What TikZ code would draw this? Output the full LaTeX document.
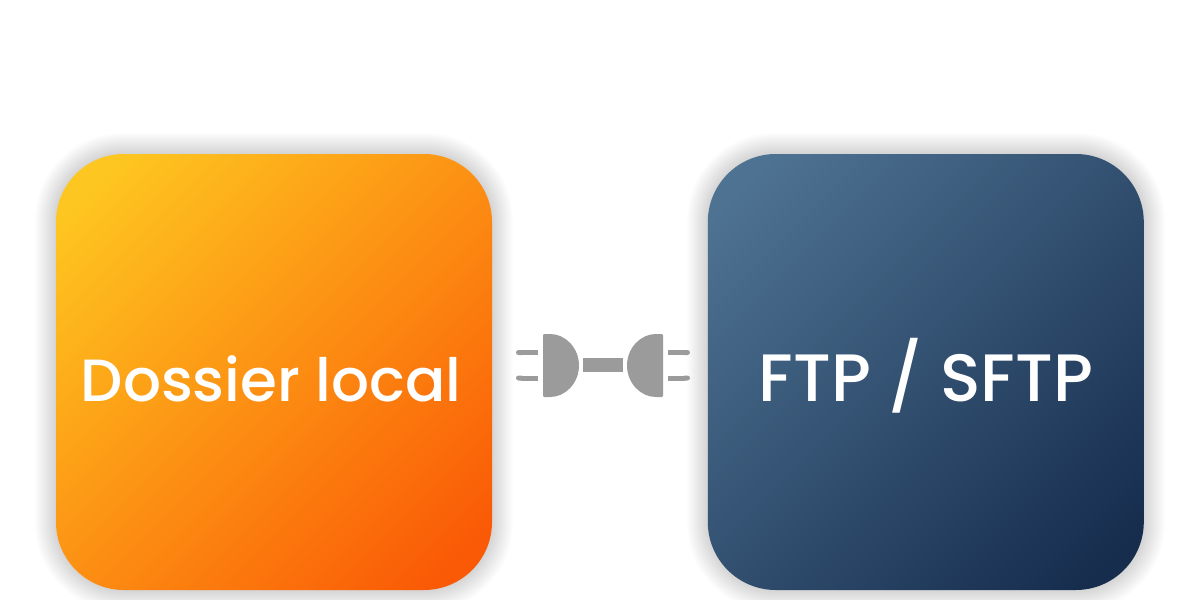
\documentclass[tikz,border=0pt]{standalone}
\usepackage{fontspec}
\setmainfont{Poppins Medium}
\usetikzlibrary{positioning,arrows.meta}
\definecolor{dossierlight}{HTML}{FEC620}
\definecolor{dossierdark}{HTML}{FA5A06}
\definecolor{ftplight}{HTML}{4E7292}
\definecolor{ftpdark}{HTML}{162D4E}
\definecolor{pluggray}{HTML}{9B9B9B}
\pgfdeclarehorizontalshading{dossier shade}{100bp}{color(0bp)=(dossierlight); color(20bp)=(dossierlight); color(80bp)=(dossierdark); color(100bp)=(dossierdark)}
\pgfdeclarehorizontalshading{ftp shade}{100bp}{color(0bp)=(ftplight); color(20bp)=(ftplight); color(80bp)=(ftpdark); color(100bp)=(ftpdark)}
\tikzset{
  module/.style={rounded corners=34pt,minimum size=218pt,inner sep=0pt},
  dossier module/.style={module,shading=dossier shade,shading angle=-45},
  ftp module/.style={module,shading=ftp shade,shading angle=-45},
  module label/.style={text=white,inner sep=0pt},
  module shadow/.style={black,opacity=0.0085},
  plug/.style={fill=pluggray,rounded corners=0.6pt},
  prong/.style={draw=pluggray,line width=2.5pt},
}
\begin{document}
\begin{tikzpicture}[x=0.5pt,y=-0.5pt]
\useasboundingbox (0,0) rectangle (1200,600);
% the shadows
\foreach \r in {0,...,21}{
  \fill[module shadow,rounded corners=34pt+0.45pt*\r] (56-\r,154-\r) rectangle (492+\r,590+\r);
  \fill[module shadow,rounded corners=34pt+0.45pt*\r] (708-\r,154-\r) rectangle (1144+\r,590+\r);
}
% the nodes
\node [dossier module] (dossier) at (274,372) {};
\node [ftp module,right=107.5pt of dossier] (ftp) {};
\node [module label,font=\fontsize{29.8}{36}\selectfont] (dossierlabel) at (271,379) {Dossier local};
\node [module label,font=\fontsize{33.5}{40}\selectfont] (ftplabel) at (926,376) {FTP / SFTP};
% the plug
\fill[plug] (543,334) -- (549,334) arc[start angle=-90,end angle=90,x radius=30,y radius=31.5] -- (543,397) -- cycle;
\fill[plug] (663,334) -- (657,334) arc[start angle=-90,end angle=-270,x radius=30,y radius=31.5] -- (663,397) -- cycle;
\fill[pluggray] (583,358) rectangle (623,372);
\draw[prong,{Round Cap[]}-] (516,352.5) -- (538,352.5);
\draw[prong,{Round Cap[]}-] (516,378) -- (538,378);
\draw[prong,-{Round Cap[]}] (668,352.5) -- (690,352.5);
\draw[prong,-{Round Cap[]}] (668,378) -- (690,378);
\end{tikzpicture}
\end{document}
